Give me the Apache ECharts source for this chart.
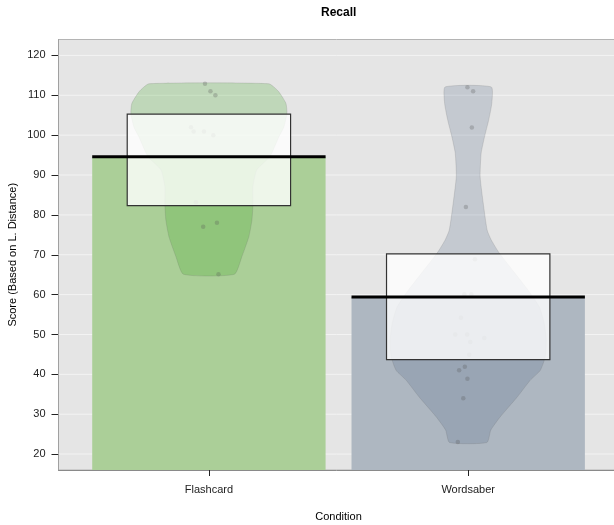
<!DOCTYPE html>
<html>
<head>
<meta charset="utf-8">
<script src="https://cdn.jsdelivr.net/npm/echarts@6/dist/echarts.min.js"></script>
<style>
  html, body { margin: 0; padding: 0; background: #ffffff; }
  #chart { width: 614px; height: 525px; }
</style>
</head>
<body>
<div id="chart"></div>
<script>
// Recall scores per condition (pirate plot: bar = mean, bean = density, box = inference band)
const categories = ['Flashcard', 'Wordsaber'];
const means = [94.6, 59.4];
const bandLow = [82.3, 43.7];
const bandHigh = [105.3, 70.2];
const yTicks = [20, 30, 40, 50, 60, 70, 80, 90, 100, 110, 120];

const flashcardScores = [112.9, 111.0, 110.0, 102.0, 100.9, 100.9, 100.0, 83.2, 78.0, 77.0, 65.1];
const flashcardJitter = [-0.015, 0.006, 0.025, -0.069, -0.059, -0.019, 0.017, -0.050, 0.031, -0.022, 0.037];
const wordsaberScores = [112.0, 111.0, 101.9, 82.0, 68.9, 60.1, 60.1, 54.2, 50.0, 50.0, 49.1, 48.1, 44.9, 41.9, 41.0, 38.9, 34.0, 23.0];
const wordsaberJitter = [-0.003, 0.019, 0.014, -0.009, 0.026, -0.015, 0.012, -0.028, -0.050, -0.004, 0.062, 0.008, 0.004, -0.013, -0.035, -0.003, -0.019, -0.040];

// Bean outlines: [score, half width in category units], top to bottom
const flashcardBean = [
  [112.9, 0.231], [111.0, 0.268], [108.0, 0.297], [105.5, 0.301], [102.0, 0.289],
  [99.6, 0.270], [94.6, 0.235], [91.3, 0.185], [87.1, 0.170], [82.9, 0.170],
  [78.7, 0.166], [74.5, 0.154], [69.5, 0.127], [65.1, 0.098]
];
const wordsaberBean = [
  [112.1, 0.089], [108.0, 0.091], [103.8, 0.079], [99.6, 0.063], [95.5, 0.050],
  [89.6, 0.046], [82.9, 0.058], [76.2, 0.073], [73.7, 0.089], [70.4, 0.120],
  [65.3, 0.181], [61.1, 0.231], [56.9, 0.274], [52.8, 0.293], [48.6, 0.301],
  [44.4, 0.297], [41.0, 0.278], [38.5, 0.239], [34.3, 0.189], [29.3, 0.123],
  [26.0, 0.087], [22.9, 0.072]
];

const Y_MIN = 16, Y_MAX = 124, X_MIN = 0.42, X_MAX = 2.58;
const BAR_HALF = 0.45, BAND_HALF = 0.315;
const barColors = ['#abcf98', '#aeb7c1'];
const beanColors = ['rgba(40,160,10,0.2)', 'rgba(84,106,138,0.22)'];
const beans = [flashcardBean, wordsaberBean];
const FONT = '"Liberation Sans", Arial, Helvetica, sans-serif';

const catData = categories.map((c, i) => [i + 1, means[i]]);

function pointsFor(scores, jitter, pos) {
  return scores.map((s, i) => [pos + jitter[i], s]);
}

const chart = echarts.init(document.getElementById('chart'), null, { renderer: 'canvas' });

chart.setOption({
  animation: false,
  backgroundColor: '#ffffff',
  graphic: [{
    type: 'text', left: 321, top: 7,
    style: { text: 'Recall', fontFamily: FONT, fontSize: 12, fontWeight: 'bold', fill: '#000' }
  }],
  grid: {
    left: 58.5, top: 39.5, width: 560.1, height: 430.5,
    outerBoundsMode: 'none', containLabel: false,
    show: true, backgroundColor: '#e5e5e5', borderColor: '#b4b4b4', borderWidth: 1
  },
  xAxis: {
    type: 'value', min: X_MIN, max: X_MAX,
    name: 'Condition', nameLocation: 'middle', nameGap: 41,
    nameTextStyle: { fontFamily: FONT, fontSize: 11, color: '#000' },
    axisLine: { show: true, lineStyle: { color: '#8a8a8a', width: 1 } },
    axisTick: { show: true, customValues: [1, 2], length: 6, lineStyle: { color: '#222' } },
    axisLabel: {
      customValues: [1, 2], margin: 14,
      fontFamily: FONT, fontSize: 11, color: '#222',
      formatter: v => categories[Math.round(v) - 1] || ''
    },
    splitLine: { show: false }
  },
  yAxis: {
    type: 'value', min: Y_MIN, max: Y_MAX,
    name: 'Score (Based on L. Distance)', nameLocation: 'middle', nameGap: 40,
    nameMoveOverlap: false,
    nameTextStyle: { fontFamily: FONT, fontSize: 11, color: '#000' },
    axisLine: { show: true, lineStyle: { color: '#a0a0a0', width: 1 } },
    axisTick: { show: true, customValues: yTicks, length: 7, lineStyle: { color: '#222' } },
    axisLabel: {
      customValues: yTicks, margin: 13,
      fontFamily: FONT, fontSize: 11, color: '#222'
    },
    splitLine: { show: false }
  },
  series: [
    {
      // horizontal reference lines
      type: 'custom', z: 1, silent: true, clip: true,
      data: yTicks.map(t => [t]),
      renderItem: (params, api) => {
        const a = api.coord([X_MIN, api.value(0)]);
        const b = api.coord([X_MAX, api.value(0)]);
        return { type: 'line', shape: { x1: a[0], y1: a[1], x2: b[0], y2: b[1] },
                 style: { stroke: '#f3f3f3', lineWidth: 1 } };
      }
    },
    {
      // mean bars
      type: 'custom', z: 2, silent: true, clip: true,
      data: catData,
      renderItem: (params, api) => {
        const x = api.value(0), m = api.value(1);
        const tl = api.coord([x - BAR_HALF, m]);
        const br = api.coord([x + BAR_HALF, Y_MIN]);
        return { type: 'rect', shape: { x: tl[0], y: tl[1], width: br[0] - tl[0], height: br[1] - tl[1] },
                 style: { fill: barColors[params.dataIndex] } };
      }
    },
    {
      // density beans
      type: 'custom', z: 3, silent: true, clip: true,
      data: catData,
      renderItem: (params, api) => {
        const x = api.value(0);
        const prof = beans[params.dataIndex];
        const pts = [];
        prof.forEach(p => pts.push(api.coord([x + p[1], p[0]])));
        for (let i = prof.length - 1; i >= 0; i--) pts.push(api.coord([x - prof[i][1], prof[i][0]]));
        return { type: 'polygon', shape: { points: pts, smooth: 0.18 },
                 style: { fill: beanColors[params.dataIndex], stroke: 'rgba(90,90,90,0.22)', lineWidth: 0.8 } };
      }
    },
    {
      type: 'scatter', z: 4, silent: true,
      symbolSize: 4.5,
      itemStyle: { color: 'rgba(85,85,85,0.35)' },
      data: pointsFor(flashcardScores, flashcardJitter, 1).concat(pointsFor(wordsaberScores, wordsaberJitter, 2))
    },
    {
      // inference bands
      type: 'custom', z: 5, silent: true, clip: true,
      data: categories.map((c, i) => [i + 1, bandLow[i], bandHigh[i]]),
      renderItem: (params, api) => {
        const x = api.value(0);
        const tl = api.coord([x - BAND_HALF, api.value(2)]);
        const br = api.coord([x + BAND_HALF, api.value(1)]);
        return { type: 'rect', shape: { x: tl[0], y: tl[1], width: br[0] - tl[0], height: br[1] - tl[1] },
                 style: { fill: 'rgba(255,255,255,0.8)', stroke: '#333333', lineWidth: 1.2 } };
      }
    },
    {
      // mean lines
      type: 'custom', z: 6, silent: true, clip: true,
      data: catData,
      renderItem: (params, api) => {
        const x = api.value(0), m = api.value(1);
        const a = api.coord([x - BAR_HALF, m]);
        const b = api.coord([x + BAR_HALF, m]);
        return { type: 'line', shape: { x1: a[0], y1: a[1], x2: b[0], y2: b[1] },
                 style: { stroke: '#000000', lineWidth: 3 } };
      }
    }
  ]
});
</script>
</body>
</html>
